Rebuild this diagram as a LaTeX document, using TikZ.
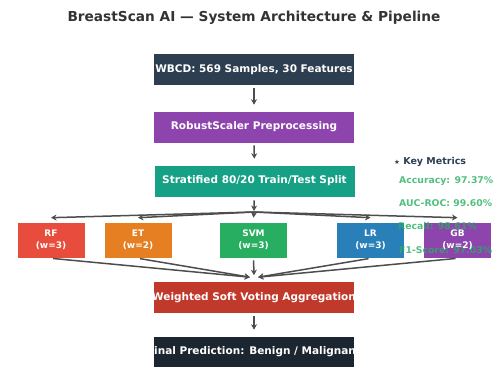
\documentclass[tikz,border=0pt]{standalone}
\usepackage{fontspec}
\setmainfont{DejaVu Sans}
\usetikzlibrary{arrows.meta}
\definecolor{titlegray}{HTML}{333333}
\definecolor{flowgray}{HTML}{4D4D4D}
\definecolor{cdata}{HTML}{2C3E50}
\definecolor{cprep}{HTML}{8E44AD}
\definecolor{csplit}{HTML}{16A085}
\definecolor{crf}{HTML}{E74C3C}
\definecolor{cet}{HTML}{E67E22}
\definecolor{csvm}{HTML}{27AE60}
\definecolor{clr}{HTML}{2980B9}
\definecolor{cgb}{HTML}{8E44AD}
\definecolor{cvote}{HTML}{C0392B}
\definecolor{cfinal}{HTML}{1B2631}
\definecolor{cmetric}{HTML}{27AE60}
\begin{document}
\begin{tikzpicture}[x=1pt,y=-1pt,
  box/.style={draw=white, line width=0.6pt, inner sep=0pt},
  stagebox/.style={box, minimum width=201pt, minimum height=32pt},
  modelbox/.style={box, minimum width=68pt, minimum height=36pt},
  boxtext/.style={text=white, inner sep=0pt, align=center, font=\bfseries\fontsize{10.5}{12}\selectfont},
  modeltext/.style={boxtext, font=\bfseries\fontsize{9}{11.5}\selectfont},
  metric/.style={anchor=west, inner sep=0pt, text=cmetric, text opacity=0.8, font=\bfseries\fontsize{9.3}{11}\selectfont},
  flow/.style={draw=flowgray, line width=1.5pt, -{Stealth[length=5.5pt,width=6pt]}},
]
\useasboundingbox (0,0) rectangle (501,367);
\clip (0,0) rectangle (501,367);

% title
\node[text=titlegray, font=\bfseries\fontsize{13.7}{16}\selectfont] (title) at (254,18)
  {BreastScan AI — System Architecture \& Pipeline};

% pipeline stages
\node[stagebox, fill=cdata]  (data)  at (254,69.5) {};
\node[stagebox, fill=cprep]  (prep)  at (254,127) {};
\node[stagebox, fill=csplit] (split) at (254.5,181) {};
\node[stagebox, fill=cvote]  (vote)  at (254,297.5) {};
\node[stagebox, fill=cfinal] (final) at (254,352) {};

% ensemble members
\node[modelbox, fill=crf]  (rf)  at (51,240) {};
\node[modelbox, fill=cet]  (et)  at (138,240) {};
\node[modelbox, fill=csvm] (svm) at (253.5,240) {};
\node[modelbox, fill=clr]  (lr)  at (370.5,240) {};
\node[modelbox, fill=cgb]  (gb)  at (457.5,240) {};

% key metrics panel
\node[anchor=west, inner sep=0pt, text=cdata, font=\bfseries\fontsize{9.5}{11}\selectfont] (keyhead) at (394,162)
  {{\fontsize{6.5}{8}\selectfont ★} Key Metrics};
\node[metric] (acc) at (399,181) {Accuracy: 97.37\%};
\node[metric] (auc) at (399,203) {AUC-ROC: 99.60\%};
\node[metric] (rec) at (398,226) {Recall: 98.61\%};
\node[metric] (f1)  at (399,250) {F1-Score: 97.03\%};

% box labels
\node[boxtext] (datat)  at (data)  {WBCD: 569 Samples, 30 Features};
\node[boxtext] (prept)  at (prep)  {RobustScaler Preprocessing};
\node[boxtext] (splitt) at (split) {Stratified 80/20 Train/Test Split};
\node[boxtext] (votet)  at (vote)  {Weighted Soft Voting Aggregation};
\node[boxtext] (finalt) at (final) {Final Prediction: Benign / Malignant};
\node[modeltext] (rft)  at (rf)  {RF\\(w=3)};
\node[modeltext] (ett)  at (et)  {ET\\(w=2)};
\node[modeltext] (svmt) at (svm) {SVM\\(w=3)};
\node[modeltext] (lrt)  at (lr)  {LR\\(w=3)};
\node[modeltext] (gbt)  at (gb)  {GB\\(w=2)};

% flow
\draw[flow, shorten <=2pt, shorten >=6pt] (data) -- (prep);
\draw[flow, shorten <=2pt, shorten >=6pt] (prep) -- (split);
\coordinate (hub) at (254,212);
\draw[flow, shorten <=3pt, shorten >=1pt] (split) -- (hub);
\foreach \m in {rf,et,svm,lr,gb}
  \draw[flow] (hub) -- ([yshift=4pt]\m.north);
\draw[flow, shorten <=2pt] (rf.south)  -- ([xshift=-4pt,yshift=4pt]vote.north);
\draw[flow, shorten <=2pt] (et.south)  -- ([xshift=-4pt,yshift=4pt]vote.north);
\draw[flow, shorten <=2pt] (svm.south) -- ([yshift=6pt]vote.north);
\draw[flow, shorten <=2pt] (lr.south)  -- ([xshift=4pt,yshift=4pt]vote.north);
\draw[flow, shorten <=2pt] (gb.south)  -- ([xshift=4pt,yshift=4pt]vote.north);
\draw[flow, shorten <=2pt, shorten >=6pt] (vote) -- (final);
\end{tikzpicture}
\end{document}
